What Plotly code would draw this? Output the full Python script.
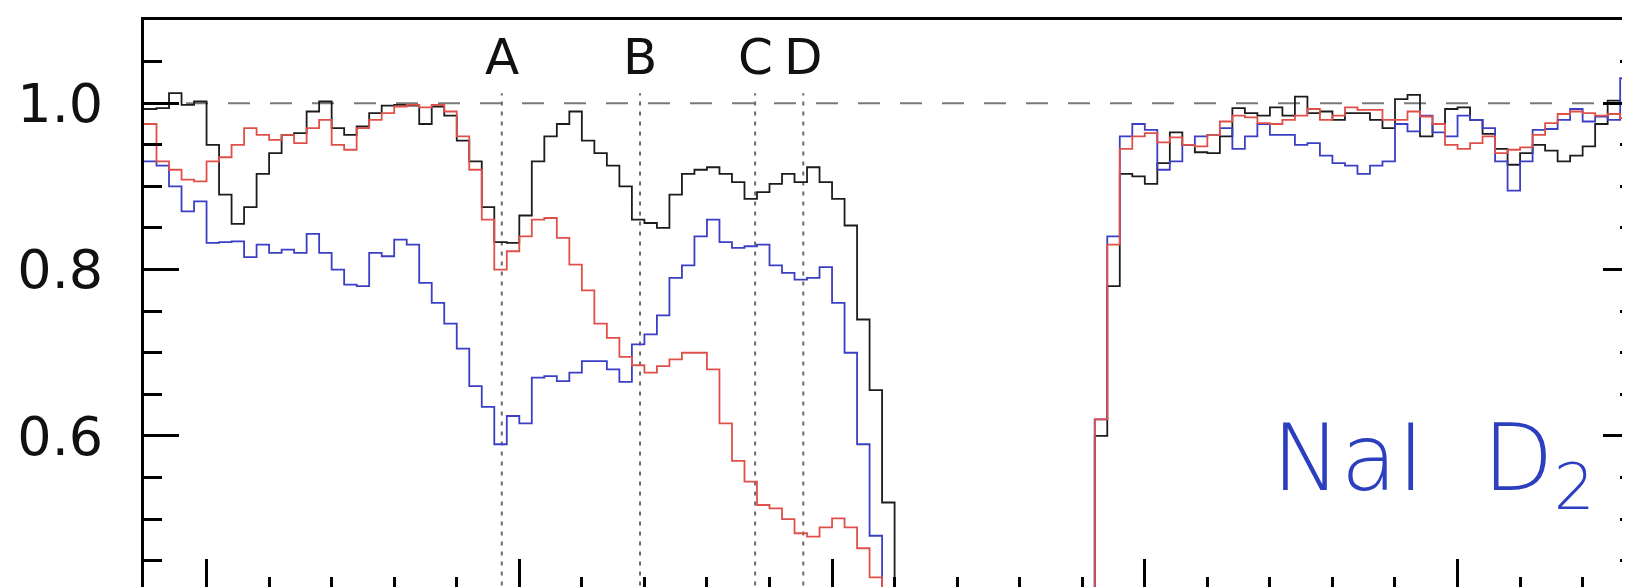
import numpy as np
import plotly.graph_objects as go

# ---------------- data ----------------
# x: velocity-like bins (2 units wide), left edges
bin_left = np.arange(-110, 130, 2)          # 120 bins
bin_width = 2
OFF = 0.3                                    # below the plotted window (saturated core)

black_flux = [
    0.993, 0.994, 1.012, 0.998, 1.002, 0.950, 0.890, 0.855, 0.875, 0.915,
    0.940, 0.962, 0.964, 0.990, 1.002, 0.970, 0.962, 0.972, 0.988, 0.997,
    0.998, 0.997, 0.975, 0.996, 0.985, 0.955, 0.930, 0.875, 0.833, 0.832,
    0.865, 0.930, 0.960, 0.975, 0.990, 0.955, 0.940, 0.925, 0.900, 0.860,
    0.856, 0.850, 0.890, 0.915, 0.920, 0.923, 0.915, 0.905, 0.885, 0.893,
    0.903, 0.915, 0.905, 0.923, 0.905, 0.885, 0.853, 0.740, 0.655, 0.520,
    OFF, OFF, OFF, OFF, OFF, OFF, OFF, OFF, OFF, OFF,
    OFF, OFF, OFF, OFF, OFF, OFF, 0.600, 0.780, 0.915, 0.912,
    0.903, 0.928, 0.965, 0.950, 0.941, 0.940, 0.960, 0.994, 0.988, 0.985,
    0.995, 0.985, 1.008, 0.988, 0.990, 0.980, 0.988, 0.988, 0.980, 0.970,
    1.005, 1.010, 0.960, 0.975, 0.993, 0.995, 0.980, 0.963, 0.945, 0.926,
    0.940, 0.950, 0.943, 0.930, 0.937, 0.948, 0.975, 1.003, 1.000, 1.000,
]

red_flux = [
    0.975, 0.930, 0.920, 0.908, 0.906, 0.930, 0.935, 0.950, 0.970, 0.962,
    0.956, 0.962, 0.952, 0.970, 0.980, 0.950, 0.944, 0.970, 0.980, 0.988,
    0.996, 0.998, 0.995, 0.998, 0.990, 0.960, 0.920, 0.860, 0.800, 0.822,
    0.840, 0.860, 0.862, 0.838, 0.806, 0.775, 0.735, 0.718, 0.695, 0.685,
    0.676, 0.684, 0.692, 0.700, 0.700, 0.680, 0.615, 0.570, 0.545, 0.517,
    0.513, 0.500, 0.483, 0.479, 0.490, 0.501, 0.490, 0.465, 0.430, OFF,
    OFF, OFF, OFF, OFF, OFF, OFF, OFF, OFF, OFF, OFF,
    OFF, OFF, OFF, OFF, OFF, OFF, 0.620, 0.830, 0.945, 0.960,
    0.964, 0.953, 0.959, 0.950, 0.948, 0.962, 0.978, 0.985, 0.983, 0.976,
    0.975, 0.980, 0.985, 0.993, 0.980, 0.985, 0.995, 0.992, 0.992, 0.980,
    0.980, 0.990, 0.984, 0.975, 0.950, 0.945, 0.952, 0.960, 0.940, 0.944,
    0.947, 0.962, 0.976, 0.987, 0.990, 0.988, 0.985, 0.987, 0.982, 0.980,
]

blue_flux = [
    0.930, 0.925, 0.900, 0.870, 0.882, 0.832, 0.833, 0.834, 0.815, 0.830,
    0.820, 0.824, 0.820, 0.843, 0.820, 0.800, 0.782, 0.780, 0.820, 0.816,
    0.836, 0.830, 0.784, 0.760, 0.735, 0.705, 0.660, 0.635, 0.590, 0.624,
    0.615, 0.670, 0.672, 0.666, 0.676, 0.690, 0.690, 0.680, 0.665, 0.710,
    0.722, 0.745, 0.790, 0.805, 0.840, 0.860, 0.833, 0.826, 0.828, 0.830,
    0.805, 0.796, 0.788, 0.790, 0.803, 0.760, 0.700, 0.590, 0.480, OFF,
    OFF, OFF, OFF, OFF, OFF, OFF, OFF, OFF, OFF, OFF,
    OFF, OFF, OFF, OFF, OFF, OFF, 0.620, 0.840, 0.960, 0.975,
    0.968, 0.920, 0.930, 0.950, 0.960, 0.962, 0.970, 0.945, 0.960, 0.975,
    0.962, 0.962, 0.950, 0.952, 0.937, 0.928, 0.925, 0.915, 0.925, 0.930,
    0.975, 0.966, 0.985, 0.965, 0.960, 0.985, 0.980, 0.970, 0.930, 0.895,
    0.930, 0.968, 0.969, 0.980, 0.993, 0.978, 0.984, 0.980, 1.030, 1.050,
]

component_names = ["A", "B", "C", "D"]
component_pos = [-52.8, -30.7, -12.3, -4.6]

continuum_level = 1.0
label_text = "NaI\u00a0\u00a0D<sub>2</sub>"

# ---------------- figure ----------------
X_RANGE = [-110, 128.85]
Y_RANGE = [0.41, 1.10]

def step_xy(values):
    xs = list(bin_left) + [bin_left[-1] + bin_width]
    ys = list(values) + [values[-1]]
    return xs, ys

fig = go.Figure()
for vals, col in [(black_flux, "#1c1c1c"), (blue_flux, "#3b3fc4"), (red_flux, "#e0504a")]:
    xs, ys = step_xy(vals)
    fig.add_trace(go.Scatter(x=xs, y=ys, mode="lines",
                             line=dict(color=col, width=1.8, shape="hv"),
                             showlegend=False, hoverinfo="skip"))

# invisible trace that materialises the right-hand tick axis
fig.add_trace(go.Scatter(x=[X_RANGE[0]], y=[Y_RANGE[0]], yaxis="y2", mode="markers",
                         marker=dict(opacity=0), showlegend=False, hoverinfo="skip"))

# continuum (dashed)
fig.add_shape(type="line", xref="paper", x0=0, x1=1, yref="y",
              y0=continuum_level, y1=continuum_level,
              line=dict(color="#7a7a7a", width=2, dash="22px,20px"), layer="below")

# component markers
for name, pos in zip(component_names, component_pos):
    fig.add_shape(type="line", xref="x", x0=pos, x1=pos, yref="y",
                  y0=Y_RANGE[0] - 0.05, y1=1.012,
                  line=dict(color="#6a6a6a", width=2, dash="4px,6px"), layer="below")
    fig.add_annotation(x=pos, y=1.056, xref="x", yref="y", text=name,
                       showarrow=False, xanchor="center", yanchor="middle",
                       font=dict(family="DejaVu Sans", size=50, color="#111111"))

fig.add_annotation(x=70.0, y=0.566, xref="x", yref="y", text=label_text,
                   showarrow=False, xanchor="left", yanchor="middle",
                   font=dict(family="DejaVu Sans", size=92, color="#2b3fbf",
                             weight=200))

tick_font = dict(family="DejaVu Sans", size=54, color="#111111")

minor_y = dict(ticks="inside", dtick=0.05, tick0=0, ticklen=18,
               tickwidth=2.5, tickcolor="black")

fig.update_layout(
    width=1630, height=587,
    margin=dict(l=136, r=0, t=12, b=1, pad=0),
    paper_bgcolor="white", plot_bgcolor="white",
    template="none",
    showlegend=False,
    xaxis=dict(range=X_RANGE, showgrid=False, zeroline=False,
               showline=True, linecolor="black", linewidth=3, mirror=True,
               ticks="inside", tick0=0, dtick=50, ticklen=35, tickwidth=2.5,
               tickcolor="black", showticklabels=False,
               minor=dict(ticks="inside", dtick=10, tick0=0, ticklen=17,
                          tickwidth=2.5, tickcolor="black"),
               automargin=False),
    yaxis=dict(range=Y_RANGE, showgrid=False, zeroline=False,
               showline=True, linecolor="black", linewidth=3, mirror=False,
               ticks="inside", tickmode="linear", tick0=0, dtick=0.2,
               tickformat=".1f",
               ticklen=35, tickwidth=2.5, tickcolor="black",
               tickfont=tick_font, ticklabelstandoff=27,
               minor=minor_y, automargin=False),
    yaxis2=dict(range=Y_RANGE, overlaying="y", side="right", anchor="x",
                showgrid=False, zeroline=False, showline=False,
                ticks="inside", tickmode="linear", tick0=0, dtick=0.2,
                ticklen=35, tickwidth=2.5,
                tickcolor="black", showticklabels=False,
                minor=minor_y, automargin=False),
)

fig.write_html("out.html")
